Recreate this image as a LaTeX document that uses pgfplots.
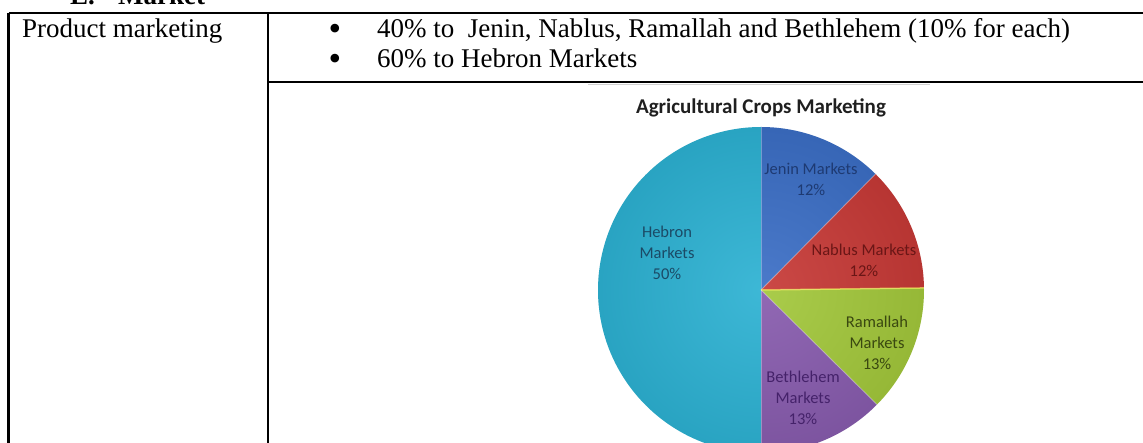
\documentclass[border=0pt]{standalone}
\usepackage{pgfplots}
\pgfplotsset{compat=1.18}
\usepackage{pgfplotstable}
\usepackage{fontspec}
\setmainfont{Liberation Serif}
\newfontfamily\carlito{Carlito}
\definecolor{cHebron}{HTML}{2DB2D3}
\definecolor{cJenin}{HTML}{3C6FC6}
\definecolor{cNablus}{HTML}{C73A37}
\definecolor{cRamallah}{HTML}{A3C83C}
\definecolor{cBethlehem}{HTML}{885CAE}
\definecolor{tHebron}{HTML}{1B4A66}
\definecolor{tJenin}{HTML}{1E3A72}
\definecolor{tNablus}{HTML}{6A1616}
\definecolor{tRamallah}{HTML}{3A4810}
\definecolor{tBethlehem}{HTML}{45226A}

\pgfplotstableread{
name value
Jenin 12.4
Nablus 12.4
Ramallah 12.6
Bethlehem 12.6
Hebron 50
}\piedata

\begin{document}
\begin{tikzpicture}[x=1pt,y=1pt]
\useasboundingbox (0,0) rectangle (1143,443);
% --- read values and compute slice angles (clockwise from 12 o'clock)
\pgfplotstablegetelem{0}{value}\of\piedata \let\vA\pgfplotsretval
\pgfplotstablegetelem{1}{value}\of\piedata \let\vB\pgfplotsretval
\pgfplotstablegetelem{2}{value}\of\piedata \let\vC\pgfplotsretval
\pgfplotstablegetelem{3}{value}\of\piedata \let\vD\pgfplotsretval
\pgfplotstablegetelem{4}{value}\of\piedata \let\vE\pgfplotsretval
\pgfmathsetmacro\aA{90}
\pgfmathsetmacro\aB{\aA-3.6*\vA}
\pgfmathsetmacro\aC{\aB-3.6*\vB}
\pgfmathsetmacro\aD{\aC-3.6*\vC}
\pgfmathsetmacro\aE{\aD-3.6*\vD}
\pgfmathsetmacro\aF{\aE-3.6*\vE}
\global\let\aA\aA \global\let\aB\aB \global\let\aC\aC
\global\let\aD\aD \global\let\aE\aE \global\let\aF\aF

% --- table lines
\draw[line width=2.6pt] (8.5,443-13) -- (1150,443-13);
\draw[line width=2.6pt] (8.5,443-13) -- (8.5,-5);
\draw[line width=2.6pt] (268,443-13) -- (268,-5);
\draw[line width=2.4pt] (268,443-82) -- (1150,443-82);
\draw[black!18,line width=1pt] (588,443-85) -- (930,443-85);

% --- texts of the table
\node[anchor=base west,inner sep=0pt,font=\fontsize{27}{30}\selectfont\bfseries] at (70,438) {E.};
\node[anchor=base west,inner sep=0pt,font=\fontsize{27}{30}\selectfont\bfseries] at (118,438) {Market};
\node[anchor=base west,inner sep=0pt,font=\fontsize{27}{30}\selectfont] at (22,405) {Product marketing};
\node[anchor=center,inner sep=0pt,font=\fontsize{36}{38}\selectfont] at (335,443-32) {•};
\node[anchor=base west,inner sep=0pt,font=\fontsize{27}{30}\selectfont] at (377,405) {40\% to\hspace{0.5em}Jenin, Nablus, Ramallah and Bethlehem (10\% for each)};
\node[anchor=center,inner sep=0pt,font=\fontsize{36}{38}\selectfont] at (335,443-62) {•};
\node[anchor=base west,inner sep=0pt,font=\fontsize{27}{30}\selectfont] at (377,375) {60\% to Hebron Markets};

% --- pie chart
\begin{axis}[scale only axis, width=326pt, height=326pt,
  xmin=-1, xmax=1, ymin=-1, ymax=1, hide axis, clip=false,
  anchor=south west, at={(598pt,-10pt)}]
\fill[cJenin] (axis cs:0,0) -- (axis cs:{cos(\aA)},{sin(\aA)}) arc[start angle=\aA, end angle=\aB, radius=163pt] -- cycle;
\fill[cNablus] (axis cs:0,0) -- (axis cs:{cos(\aB)},{sin(\aB)}) arc[start angle=\aB, end angle=\aC, radius=163pt] -- cycle;
\fill[cRamallah] (axis cs:0,0) -- (axis cs:{cos(\aC)},{sin(\aC)}) arc[start angle=\aC, end angle=\aD, radius=163pt] -- cycle;
\fill[cBethlehem] (axis cs:0,0) -- (axis cs:{cos(\aD)},{sin(\aD)}) arc[start angle=\aD, end angle=\aE, radius=163pt] -- cycle;
\fill[cHebron] (axis cs:0,0) -- (axis cs:{cos(\aE)},{sin(\aE)}) arc[start angle=\aE, end angle=\aF, radius=163pt] -- cycle;
\shade[inner color=white, outer color=black, opacity=0.08] (axis cs:0,0) circle[radius=163pt];
\draw[white,opacity=0.3,line width=1pt] (axis cs:0,1) -- (axis cs:0,-1);
\draw[white,opacity=0.3,line width=1pt] (axis cs:0,0) -- (axis cs:{cos(\aB)},{sin(\aB)});
\draw[yellow!60!white,opacity=0.6,line width=1.5pt] (axis cs:0,0) -- (axis cs:{cos(\aC)},{sin(\aC)});
\draw[white,opacity=0.3,line width=1pt] (axis cs:0,0) -- (axis cs:{cos(\aD)},{sin(\aD)});
\end{axis}

% --- chart title and labels
\node[anchor=base,inner sep=0pt,font=\carlito\bfseries\fontsize{21}{24}\selectfont,text=black!88] at (761,329) {Agricultural Crops Marketing};
\node[align=center,inner sep=0pt,font=\carlito\fontsize{16.5}{21}\selectfont,text=tJenin] at (811,443-179) {Jenin Markets\\12\%};
\node[align=center,inner sep=0pt,font=\carlito\fontsize{16.5}{21}\selectfont,text=tNablus] at (864,443-260) {Nablus Markets\\12\%};
\node[align=center,inner sep=0pt,font=\carlito\fontsize{16.5}{21}\selectfont,text=tRamallah] at (877,443-343) {Ramallah\\Markets\\13\%};
\node[align=center,inner sep=0pt,font=\carlito\fontsize{16.5}{21}\selectfont,text=tBethlehem] at (803,443-398) {Bethlehem\\Markets\\13\%};
\node[align=center,inner sep=0pt,font=\carlito\fontsize{16.5}{21}\selectfont,text=tHebron] at (667,443-253) {Hebron\\Markets\\50\%};
\end{tikzpicture}
\end{document}
